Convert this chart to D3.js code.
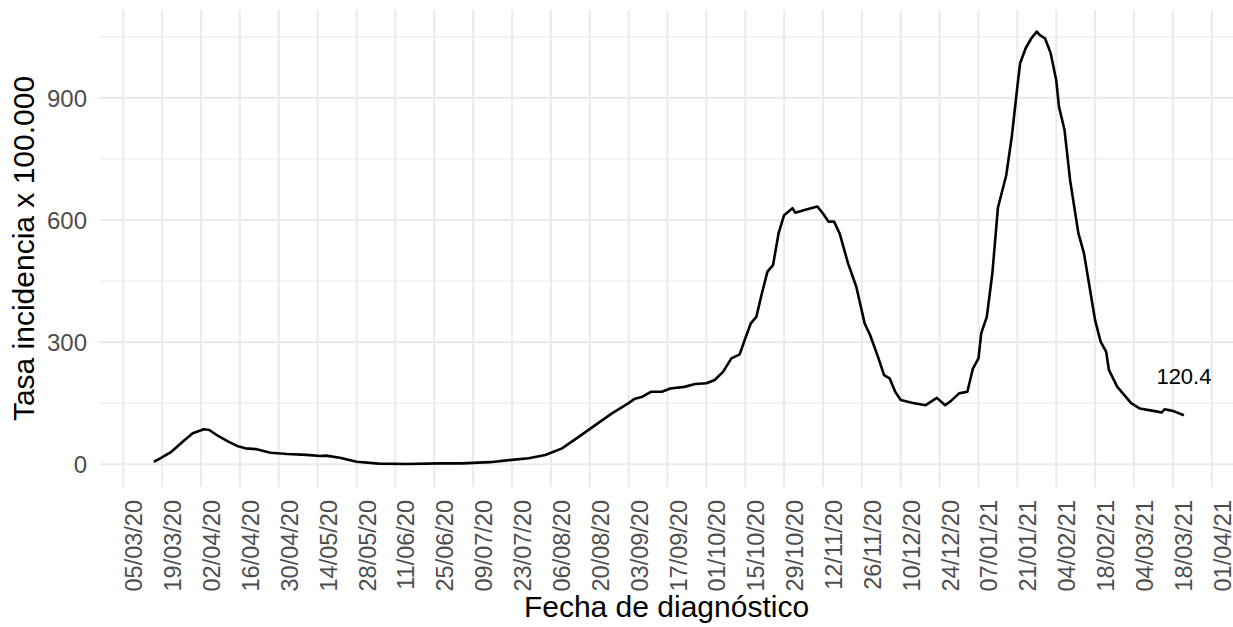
<!DOCTYPE html>
<html>
<head>
<meta charset="utf-8">
<script src="https://cdnjs.cloudflare.com/ajax/libs/d3/7.8.5/d3.min.js"></script>
<style>
  body { margin: 0; background: #fff; }
  text { font-family: "Liberation Sans", Arial, sans-serif; }
</style>
</head>
<body>
<div id="chart"></div>
<script>
// incidence rate per 100.000

var fechas = [
  "2020-03-16","2020-03-18","2020-03-22","2020-03-27","2020-03-30","2020-04-03","2020-04-05","2020-04-08",
  "2020-04-12","2020-04-15","2020-04-18","2020-04-22","2020-04-27","2020-05-03","2020-05-10","2020-05-15",
  "2020-05-17","2020-05-22","2020-05-28","2020-06-05","2020-06-15","2020-06-27","2020-07-05","2020-07-15",
  "2020-07-22","2020-07-29","2020-08-04","2020-08-10","2020-08-16","2020-08-22","2020-08-28","2020-09-03",
  "2020-09-05","2020-09-08","2020-09-11","2020-09-15","2020-09-18","2020-09-23","2020-09-27","2020-10-01",
  "2020-10-04","2020-10-07","2020-10-10","2020-10-13","2020-10-15","2020-10-17","2020-10-19","2020-10-21",
  "2020-10-23","2020-10-25","2020-10-27","2020-10-29","2020-11-01","2020-11-02","2020-11-06","2020-11-10",
  "2020-11-12","2020-11-14","2020-11-16","2020-11-18","2020-11-21","2020-11-24","2020-11-27","2020-11-29",
  "2020-12-02","2020-12-04","2020-12-06","2020-12-08","2020-12-10","2020-12-14","2020-12-19","2020-12-23",
  "2020-12-26","2020-12-28","2020-12-31","2021-01-03","2021-01-05","2021-01-07","2021-01-08","2021-01-10",
  "2021-01-12","2021-01-14","2021-01-17","2021-01-19","2021-01-21","2021-01-22","2021-01-24","2021-01-26",
  "2021-01-28","2021-01-29","2021-01-31","2021-02-02","2021-02-04","2021-02-05","2021-02-07","2021-02-09",
  "2021-02-12","2021-02-14","2021-02-16","2021-02-18","2021-02-20","2021-02-22","2021-02-23","2021-02-26",
  "2021-02-28","2021-03-03","2021-03-06","2021-03-11","2021-03-14","2021-03-15","2021-03-18","2021-03-22"
];

var tasas = [
  6, 13, 29, 59, 76, 86, 84, 70,
  55, 45, 39, 37, 28, 25, 23, 20,
  21, 16, 6, 1.5, 0.5, 2, 2, 5,
  10, 14.5, 22.6, 39, 67, 96, 125, 150,
  160, 166, 178, 178, 186, 190, 197, 199,
  207, 227, 260, 270, 309, 346, 362, 420,
  473, 489, 567, 612, 629, 618, 626, 633,
  616, 596, 596, 567, 494, 436, 346, 317,
  260, 219, 211, 178, 158, 151, 145, 163,
  145, 155, 174, 178, 235, 260, 322, 362,
  469, 630, 710, 805, 927, 985, 1022, 1046,
  1063, 1055, 1046, 1010, 944, 878, 821, 698,
  567, 518, 436, 354, 301, 276, 231, 190,
  174, 150, 137, 131, 127, 135, 131, 120.4
];

var yMajor = [0, 300, 600, 900];
var yMinor = [150, 450, 750, 1050];
var primerTick = "2020-03-05",
    ultimoTick = "2021-04-01";

var parse = d3.timeParse("%Y-%m-%d"),
    fmt = d3.timeFormat("%d/%m/%y");

var data = fechas.map(function(f, i) { return {fecha: parse(f), tasa: tasas[i]}; });

// Draw SVG
var width = 1233, height = 627;
var panel = {left: 100, right: 1233, top: 10, bottom: 487};

var svg = d3.select("#chart").append("svg")
    .attr("width", width)
    .attr("height", height);

var t0 = parse(primerTick), t1 = parse(ultimoTick);

var x = d3.scaleTime()
    .domain([t0, t1])
    .range([123.3, 1211.7]);

var y = d3.scaleLinear()
    .domain([-56, 1116])
    .range([panel.bottom, panel.top]);

// a break every 14 days
var xTicks = d3.timeDay.range(t0, d3.timeDay.offset(t1, 1), 14);

// grid
var grid = svg.append("g");

grid.selectAll("line.minor")
    .data(yMinor)
    .enter().append("line")
    .attr("x1", panel.left).attr("x2", panel.right)
    .attr("y1", function(d) { return y(d); })
    .attr("y2", function(d) { return y(d); })
    .attr("stroke", "#ebebeb")
    .attr("stroke-width", 1.1);

grid.selectAll("line.major")
    .data(yMajor)
    .enter().append("line")
    .attr("x1", panel.left).attr("x2", panel.right)
    .attr("y1", function(d) { return y(d); })
    .attr("y2", function(d) { return y(d); })
    .attr("stroke", "#ebebeb")
    .attr("stroke-width", 2.1);

grid.selectAll("line.vert")
    .data(xTicks)
    .enter().append("line")
    .attr("x1", function(d) { return x(d); })
    .attr("x2", function(d) { return x(d); })
    .attr("y1", panel.top).attr("y2", panel.bottom)
    .attr("stroke", "#ebebeb")
    .attr("stroke-width", 2.1);

// y axis labels
svg.append("g").selectAll("text")
    .data(yMajor)
    .enter().append("text")
    .attr("x", 87)
    .attr("y", function(d) { return y(d); })
    .attr("dy", "0.36em")
    .attr("text-anchor", "end")
    .attr("fill", "#4d4d4d")
    .style("font-size", "24px")
    .text(function(d) { return d; });

// x axis labels, rotated
svg.append("g").selectAll("text")
    .data(xTicks)
    .enter().append("text")
    .attr("transform", function(d) { return "translate(" + (x(d) + 19) + ",500) rotate(-90)"; })
    .attr("text-anchor", "end")
    .attr("fill", "#4d4d4d")
    .style("font-size", "23.5px")
    .text(function(d) { return fmt(d); });

// line
var line = d3.line()
    .x(function(d) { return x(d.fecha); })
    .y(function(d) { return y(d.tasa); });

svg.append("path")
    .datum(data)
    .attr("d", line)
    .attr("fill", "none")
    .attr("stroke", "#000")
    .attr("stroke-width", 2.6)
    .attr("stroke-linejoin", "round");

// last value label
var ultimo = data[data.length - 1];
svg.append("text")
    .attr("x", x(ultimo.fecha))
    .attr("y", y(ultimo.tasa + 95))
    .attr("dy", "0.36em")
    .attr("text-anchor", "middle")
    .style("font-size", "22px")
    .text(ultimo.tasa.toFixed(1));

// axis titles
svg.append("text")
    .attr("x", (panel.left + panel.right) / 2)
    .attr("y", 617)
    .attr("text-anchor", "middle")
    .style("font-size", "30px")
    .text("Fecha de diagnóstico");

svg.append("text")
    .attr("transform", "translate(34," + ((panel.top + panel.bottom) / 2) + ") rotate(-90)")
    .attr("text-anchor", "middle")
    .style("font-size", "30px")
    .text("Tasa incidencia x 100.000");
</script>
</body>
</html>
